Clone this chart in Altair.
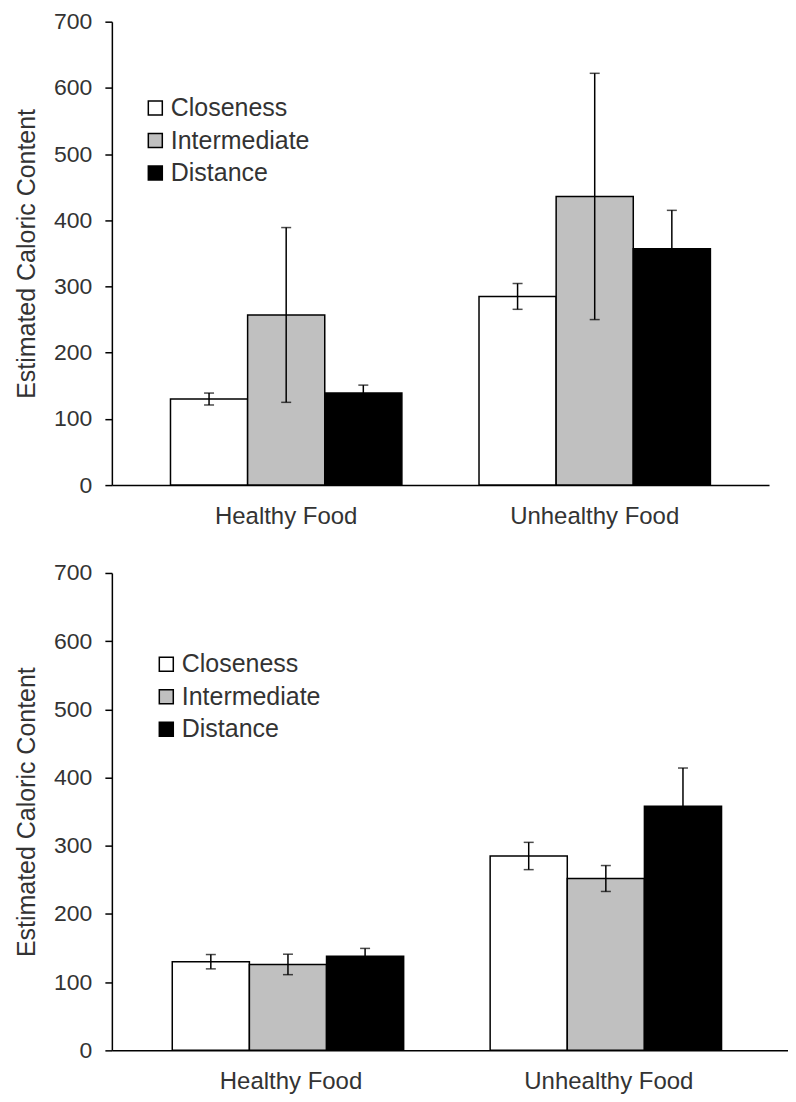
import altair as alt
import pandas as pd

foods = ["Healthy Food", "Unhealthy Food"]
conditions = ["Closeness", "Intermediate", "Distance"]
fills = ["#ffffff", "#c0c0c0", "#000000"]

# Top panel (means and error half-widths), order: Closeness, Intermediate, Distance
top_healthy = [130, 257, 139]
top_healthy_err = [9, 132, 12]
top_unhealthy = [285, 436, 357]
top_unhealthy_err = [19.5, 186, 58]

# Bottom panel
bot_healthy = [130, 126, 138]
bot_healthy_err = [10.5, 15, 11.5]
bot_unhealthy = [285, 252, 358]
bot_unhealthy_err = [20, 19, 56]

y_ticks = [0, 100, 200, 300, 400, 500, 600, 700]
FONT = "Liberation Sans"


def make_df(h, he, u, ue):
    rows = []
    for food, vals, errs in [(foods[0], h, he), (foods[1], u, ue)]:
        for c, v, e in zip(conditions, vals, errs):
            rows.append({"food": food, "condition": c, "value": v,
                         "lo": v - e, "hi": v + e})
    return pd.DataFrame(rows)


def panel(df, width, height, legend_x, legend_y, title_pad, x_pad_inner, x_pad_outer):
    base = alt.Chart(df)
    x = alt.X("food:N", sort=foods, title=None,
              scale=alt.Scale(paddingInner=x_pad_inner, paddingOuter=x_pad_outer),
              axis=alt.Axis(ticks=False, labelAngle=0, labelFontSize=24,
                            labelPadding=19, domainColor="black", domainWidth=1.5,
                            labelColor="#333333", labelFont=FONT))
    xo = alt.XOffset("condition:N", sort=conditions,
                     scale=alt.Scale(paddingInner=0, paddingOuter=0))
    yscale = alt.Scale(domain=[0, 700], nice=False)
    bars = base.mark_bar(stroke="black", strokeWidth=1.5).encode(
        x=x, xOffset=xo,
        y=alt.Y("value:Q", scale=yscale,
                title="Estimated Caloric Content",
                axis=alt.Axis(values=y_ticks, grid=False, tickSize=7,
                              tickColor="black", tickWidth=1.5,
                              domainColor="black", domainWidth=1.5,
                              labelFontSize=23, labelPadding=13,
                              labelColor="#333333", labelFont=FONT,
                              titleFontSize=25, titleFontWeight="normal",
                              titleColor="#333333", titleFont=FONT,
                              titlePadding=title_pad)),
        fill=alt.Fill("condition:N", sort=conditions,
                      scale=alt.Scale(domain=conditions, range=fills),
                      legend=alt.Legend(title=None, orient="none",
                                        legendX=legend_x, legendY=legend_y,
                                        symbolType="square", symbolSize=196,
                                        symbolStrokeColor="black",
                                        symbolStrokeWidth=1.5,
                                        labelFontSize=25, labelColor="#333333",
                                        labelFont=FONT, labelOffset=3,
                                        rowPadding=6.5)),
    )
    rules = base.mark_rule(color="black", strokeWidth=1.5).encode(
        x=x, xOffset=xo, y=alt.Y("lo:Q", scale=yscale), y2="hi:Q")
    cap_hi = base.mark_tick(color="black", size=10, thickness=1.5).encode(
        x=x, xOffset=xo, y=alt.Y("hi:Q", scale=yscale))
    cap_lo = base.mark_tick(color="black", size=10, thickness=1.5).encode(
        x=x, xOffset=xo, y=alt.Y("lo:Q", scale=yscale))
    return alt.layer(bars, rules, cap_hi, cap_lo).properties(width=width, height=height)


top = panel(make_df(top_healthy, top_healthy_err, top_unhealthy, top_unhealthy_err),
            658, 464, 31, 74, 14, 0.25, 0.19)
bottom = panel(make_df(bot_healthy, bot_healthy_err, bot_unhealthy, bot_unhealthy_err),
               677, 478, 42, 79, 14, 0.253, 0.19)

chart = alt.vconcat(top, bottom, spacing=34).resolve_scale(
    fill="independent"
).resolve_legend(fill="independent").properties(
    padding={"left": 6, "top": 2, "right": 0, "bottom": 0},
    background="white",
).configure_view(stroke=None)

chart.save("out.html", embed_options={"renderer": "svg", "actions": False})
